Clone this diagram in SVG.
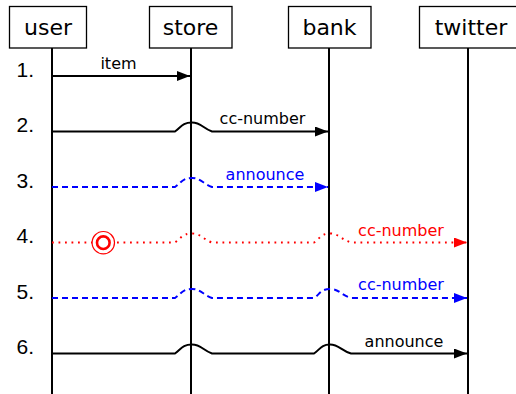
<svg xmlns="http://www.w3.org/2000/svg" width="516" height="394" viewBox="0 0 516 394">
<style>
.box{fill:#fff;stroke:#000;stroke-width:1.3}
.hdr{font-family:"DejaVu Sans",sans-serif;font-size:22px;text-anchor:middle;fill:#000}
.num{font-family:"Liberation Sans",Arial,sans-serif;font-size:21px;fill:#000}
.lbl{font-family:"DejaVu Sans",sans-serif;font-size:16px;text-anchor:middle}
.life{stroke:#000;stroke-width:2;fill:none}
.msg{fill:none;stroke-width:2}
.solid{stroke:#000}
.dash{stroke:#0000ff;stroke-dasharray:6 4}
.dot{stroke:#ff0000;stroke-dasharray:1.8 4.7}
</style>
<defs>
<marker id="ab" markerUnits="userSpaceOnUse" markerWidth="14" markerHeight="10" refX="13" refY="5" orient="auto"><path d="M0,0 L13,5 L0,10 z" fill="#000"/></marker>
<marker id="au" markerUnits="userSpaceOnUse" markerWidth="14" markerHeight="10" refX="13" refY="5" orient="auto"><path d="M0,0 L13,5 L0,10 z" fill="#0000ff"/></marker>
<marker id="ar" markerUnits="userSpaceOnUse" markerWidth="14" markerHeight="10" refX="13" refY="5" orient="auto"><path d="M0,0 L13,5 L0,10 z" fill="#ff0000"/></marker>
</defs>
<g id="user"><rect class="box" x="9.5" y="6.5" width="77" height="41.5"/><text class="hdr" x="48" y="35">user</text><line class="life" x1="52" y1="48" x2="52" y2="394"/></g>
<g id="store"><rect class="box" x="149.5" y="6.5" width="82.5" height="41.5"/><text class="hdr" x="190.5" y="35">store</text><line class="life" x1="191" y1="48" x2="191" y2="394"/></g>
<g id="bank"><rect class="box" x="288.5" y="6.5" width="82.5" height="41.5"/><text class="hdr" x="329.5" y="35">bank</text><line class="life" x1="329" y1="48" x2="329" y2="394"/></g>
<g id="twitter"><rect class="box" x="419.5" y="6.5" width="100" height="41.5"/><text class="hdr" x="471" y="35">twitter</text><line class="life" x1="468" y1="48" x2="468" y2="394"/></g>
<g id="numbers">
<text class="num" x="16.5" y="77">1.</text>
<text class="num" x="16.5" y="132">2.</text>
<text class="num" x="16.5" y="188">3.</text>
<text class="num" x="16.5" y="243">4.</text>
<text class="num" x="16.5" y="299">5.</text>
<text class="num" x="16.5" y="354">6.</text>
</g>
<g id="connectors">
<path class="msg solid" marker-end="url(#ab)" d="M52,76 L190,76"/>
<text class="lbl" x="118.5" y="69" fill="#000">item</text>
<path class="msg solid" marker-end="url(#ab)" d="M52,131.5 L175,131.5 C181,127.5 182,122.5 192,122.5 C201,122.5 203,128.5 212,131.5 L328,131.5"/>
<text class="lbl" x="262.5" y="124" fill="#000">cc-number</text>
<path class="msg dash" marker-end="url(#au)" d="M52,187 L175,187 C181,183 182,178 192,178 C201,178 203,184 212,187 L328,187"/>
<text class="lbl" x="265" y="179.5" fill="#0000ff">announce</text>
<path class="msg dot" marker-end="url(#ar)" d="M52,242.5 L175,242.5 C181,238.5 182,233.5 192,233.5 C201,233.5 203,239.5 212,242.5 L314,242.5 C320,238.5 321,233.5 330,233.5 C339,233.5 341,239.5 351,242.5 L467,242.5"/>
<g id="marker-circle"><circle cx="103.3" cy="242.7" r="11.2" fill="#fff" stroke="#ff0000" stroke-width="1.2"/><circle cx="103.3" cy="242.7" r="6.3" fill="#fff" stroke="#ff0000" stroke-width="2.6"/></g>
<text class="lbl" x="401" y="236" fill="#ff0000">cc-number</text>
<path class="msg dash" marker-end="url(#au)" d="M52,298 L175,298 C181,294 182,289 192,289 C201,289 203,295 212,298 L314,298 C320,294 321,289 330,289 C339,289 341,295 351,298 L467,298"/>
<text class="lbl" x="401" y="290" fill="#0000ff">cc-number</text>
<path class="msg solid" marker-end="url(#ab)" d="M52,353.5 L175,353.5 C181,349.5 182,344.5 192,344.5 C201,344.5 203,350.5 212,353.5 L314,353.5 C320,349.5 321,344.5 330,344.5 C339,344.5 341,350.5 351,353.5 L467,353.5"/>
<text class="lbl" x="404" y="346.5" fill="#000">announce</text>
</g>
</svg>
